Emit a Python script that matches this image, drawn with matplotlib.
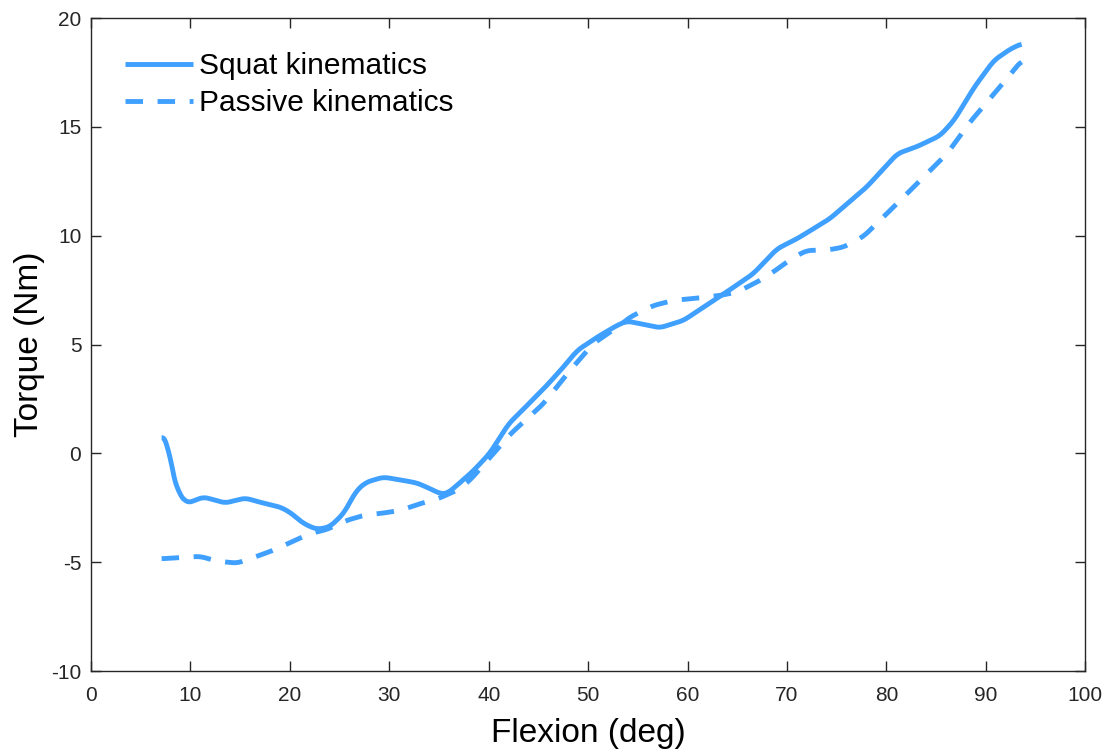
import numpy as np
import matplotlib
matplotlib.use("Agg")
import matplotlib.pyplot as plt

plt.rcParams["font.family"] = ["Liberation Sans", "DejaVu Sans"]
plt.rcParams["axes.unicode_minus"] = False

# knee flexion (deg) vs. torque (Nm), squat-derived kinematics
squat_flex = [7.1, 7.7, 8.1, 8.8, 9.6, 10.0, 11.3, 13.5, 15.5, 17.3, 19.0, 20.0,
              21.4, 22.7, 24.0, 25.4, 26.7, 27.7, 29.4, 31.4, 32.8, 34.1, 35.1,
              35.8, 36.8, 38.5, 40.1, 42.0, 43.2, 45.8, 47.5, 48.9, 50.9, 52.9,
              53.9, 55.2, 57.2, 59.6, 61.6, 63.9, 66.6, 69.0, 71.0, 74.3, 78.0,
              81.1, 83.1, 85.4, 86.8, 88.8, 90.8, 92.5, 93.6]
squat_torque = [0.72, 0.72, -0.78, -1.82, -2.28, -2.24, -2.0, -2.28, -2.05, -2.28,
                -2.46, -2.7, -3.23, -3.49, -3.38, -2.77, -1.70, -1.32, -1.09, -1.24,
                -1.36, -1.62, -1.85, -1.85, -1.47, -0.78, 0.0, 1.36, 1.9, 3.1, 3.96,
                4.73, 5.34, 5.88, 6.08, 5.96, 5.77, 6.11, 6.72, 7.41, 8.25, 9.4,
                9.86, 10.78, 12.23, 13.77, 14.1, 14.6, 15.3, 16.8, 18.05, 18.59, 18.82]

# passive kinematics
passive_flex = [7.1, 8.8, 11.0, 12.6, 14.7, 16.3, 18.3, 20.0, 22.0, 23.7, 25.7,
                27.4, 29.4, 31.1, 33.1, 34.9, 36.8, 38.1, 40.5, 42.2, 45.5, 47.9,
                50.5, 53.2, 54.2, 56.6, 58.6, 60.9, 63.3, 65.0, 67.3, 68.6, 70.7,
                72.0, 74.3, 75.7, 77.7, 79.0, 80.7, 83.4, 86.1, 88.4, 91.4, 93.6]
passive_torque = [-4.84, -4.79, -4.73, -4.95, -5.04, -4.79, -4.46, -4.1, -3.69, -3.5,
                  -3.08, -2.85, -2.74, -2.62, -2.31, -2.08, -1.70, -1.24, 0.0, 0.9,
                  2.28, 3.66, 5.04, 5.88, 6.26, 6.8, 7.03, 7.13, 7.26, 7.41, 7.95,
                  8.33, 9.02, 9.32, 9.36, 9.48, 9.97, 10.55, 11.31, 12.54, 13.77,
                  15.22, 16.83, 18.05]

x_ticks = list(range(0, 101, 10))
y_ticks = [-10, -5, 0, 5, 10, 15, 20]

blue = "#3fa0ff"


def smooth(x, y, n=900, k=5):
    # dense resample + light moving average so the traces look continuous
    xs = np.linspace(x[0], x[-1], n)
    ys = np.interp(xs, x, y)
    pad = np.pad(ys, k, mode="edge")
    ys = np.convolve(pad, np.ones(2 * k + 1) / (2 * k + 1), mode="same")[k:-k]
    return xs, ys


fig = plt.figure(figsize=(11.14, 7.54), dpi=100)
ax = fig.add_axes([0.0817, 0.110, 0.8925, 0.866])

sx, sy = smooth(squat_flex, squat_torque)
px, py = smooth(passive_flex, passive_torque)
ax.plot(sx, sy, color=blue, lw=3.5, solid_capstyle="butt", label="Squat kinematics")
ax.plot(px, py, color=blue, lw=3.5, dashes=(3.6, 3.0), dash_capstyle="butt",
        label="Passive kinematics")

ax.set_xlim(0, 100)
ax.set_ylim(-10, 20)
ax.set_xticks(x_ticks)
ax.set_yticks(y_ticks)
ax.tick_params(direction="in", length=7, width=1, top=True, right=True,
               labelsize=15, colors="#262626")
ax.tick_params(axis="x", pad=11)
ax.tick_params(axis="y", pad=7)
for s in ax.spines.values():
    s.set_color("#262626")
    s.set_linewidth(1)

ax.set_xlabel("Flexion (deg)", fontsize=24, labelpad=9)
ax.set_ylabel("Torque (Nm)", fontsize=24, labelpad=4)

ax.legend(loc="upper left", frameon=False, fontsize=21.5, handlelength=2.25,
          handletextpad=0.2, borderaxespad=0.75, labelspacing=0.3,
          borderpad=0.4)

fig.savefig("out.png", dpi=100)
